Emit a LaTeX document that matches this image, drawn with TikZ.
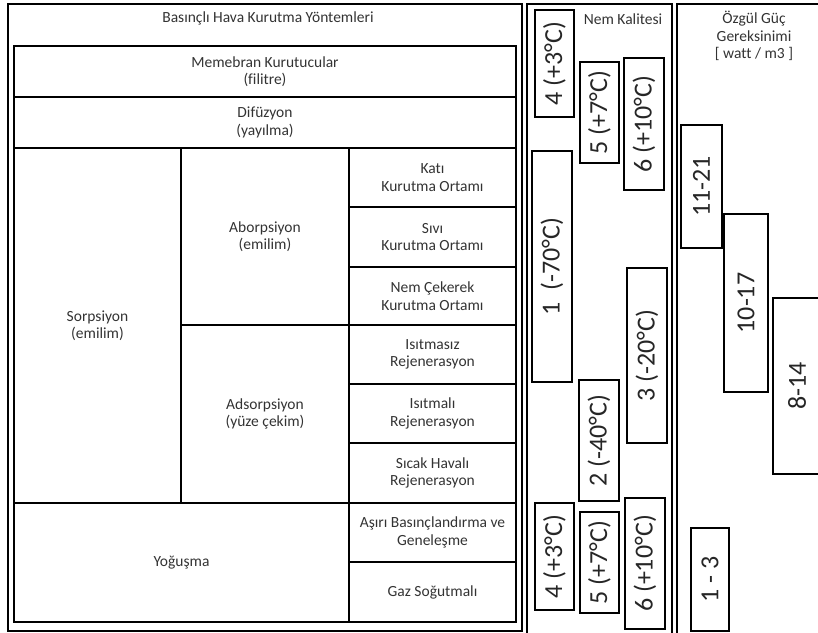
\documentclass[tikz,border=0pt]{standalone}
\usepackage{fontspec}
\setmainfont{Carlito}[Ligatures={TeX,NoCommon}]
\usetikzlibrary{calc}
\newcommand{\Cell}[6]{\draw [frame] (#2,#3) rectangle (#4,#5);
  \node [txt] (#1) at ($(#2,#3)!0.5!(#4,#5)$) {#6};}
\newcommand{\Tag}[6]{\draw [frame] (#2,#3) rectangle (#4,#5);
  \node [tag] (#1) at ($(#2,#3)!0.5!(#4,#5)$) {#6};}

\begin{document}
\begin{tikzpicture}
[x=1pt, y=-1pt,
 frame/.style={draw=black, line width=2.2pt},
 txt/.style={align=center, text=black!80, font=\fontsize{15.5}{17.5}\selectfont},
 tag/.style={rotate=90, text=black!85, font=\fontsize{26}{30}\selectfont, inner sep=0pt},]

\useasboundingbox (0,0) rectangle (818,632);
\clip (0,0) rectangle (818,632);

% outer frames
\draw [frame] (8,4) rectangle (522,631);
\draw [frame] (14,46) rectangle (516,622);
\draw [frame] (527,4) rectangle (672,640);
\draw [frame] (677,4) rectangle (830,640);

\node [txt] (baslik) at (268,18) {Basınçlı Hava Kurutma Yöntemleri};
\node [txt] (nem) at (623,19) {Nem Kalitesi};
\node [txt] (guc) at (754,36) {Özgül Güç\\Gereksinimi\\{[} watt / m3 ]};

% methods
\Cell{membran}{14}{46}{516}{97}{Memebran Kurutucular\\(filitre)}
\Cell{difuzyon}{14}{97}{516}{148}{Difüzyon\\(yayılma)}
\Cell{sorpsiyon}{14}{148}{181}{503}{Sorpsiyon\\(emilim)}
\Cell{aborpsiyon}{181}{148}{349}{325}{Aborpsiyon\\(emilim)}
\Cell{adsorpsiyon}{181}{325}{349}{503}{Adsorpsiyon\\(yüze çekim)}
\Cell{kati}{349}{148}{516}{207}{Katı\\Kurutma Ortamı}
\Cell{sivi}{349}{207}{516}{267}{Sıvı\\Kurutma Ortamı}
\Cell{cekerek}{349}{267}{516}{325}{Nem Çekerek\\Kurutma Ortamı}
\Cell{isitmasiz}{349}{325}{516}{384}{Isıtmasız\\Rejenerasyon}
\Cell{isitmali}{349}{384}{516}{443}{Isıtmalı\\Rejenerasyon}
\Cell{sicak}{349}{443}{516}{503}{Sıcak Havalı\\Rejenerasyon}
\Cell{yogusma}{14}{503}{349}{622}{Yoğuşma}
\Cell{asiri}{349}{503}{516}{562}{Aşırı Basınçlandırma ve\\Geneleşme}
\Cell{gaz}{349}{562}{516}{622}{Gaz Soğutmalı}

% humidity classes
\Tag{nkA}{535}{10}{574}{117}{4 (+3°C)}
\Tag{nkB}{580}{62}{619}{163}{5 (+7°C)}
\Tag{nkC}{624}{58}{664}{190}{6 (+10°C)}
\Tag{nkD}{532}{151}{572}{382}{1 \ (-70°C)}
\Tag{nkE}{627}{268}{667}{443}{3 (-20°C)}
\Tag{nkF}{579}{380}{619}{501}{2 (-40°C)}
\Tag{nkG}{535}{503}{574}{610}{4 (+3°C)}
\Tag{nkH}{580}{512}{619}{613}{5 (+7°C)}
\Tag{nkI}{625}{498}{665}{629}{6 (+10°C)}

% power demand
\Tag{gA}{681}{125}{722}{248}{11-21}
\Tag{gB}{724}{214}{768}{392}{10-17}
\Tag{gC}{773}{298}{821}{474}{8-14}
\Tag{gD}{691}{528}{729}{631}{1 - 3}
\end{tikzpicture}
\end{document}
